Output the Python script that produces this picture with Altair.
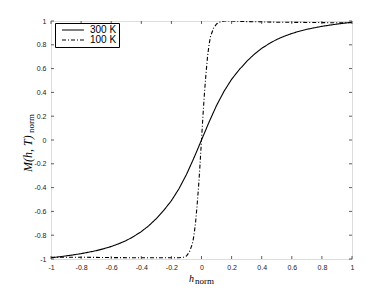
import altair as alt
import pandas as pd

# ---- data ----
h300 = [-1.0, -0.95, -0.9, -0.85, -0.8, -0.75, -0.7, -0.65, -0.6, -0.55, -0.5,
        -0.45, -0.4, -0.35, -0.3, -0.25, -0.2, -0.15, -0.1, -0.05, 0.0,
        0.05, 0.1, 0.15, 0.2, 0.25, 0.3, 0.35, 0.4, 0.45, 0.5,
        0.55, 0.6, 0.65, 0.7, 0.75, 0.8, 0.85, 0.9, 0.95, 1.0]
m300 = [-0.99, -0.982, -0.974, -0.965, -0.955, -0.943, -0.93, -0.914, -0.895, -0.872, -0.845,
        -0.81, -0.77, -0.72, -0.66, -0.59, -0.51, -0.41, -0.29, -0.15, 0.0,
        0.15, 0.29, 0.41, 0.51, 0.59, 0.66, 0.72, 0.77, 0.81, 0.845,
        0.872, 0.895, 0.914, 0.93, 0.943, 0.955, 0.965, 0.974, 0.982, 0.99]

h100 = [-1.0, -0.8, -0.6, -0.4, -0.3, -0.2, -0.15, -0.12, -0.1, -0.08, -0.06, -0.05,
        -0.04, -0.03, -0.02, -0.01, 0.0, 0.01, 0.02, 0.03, 0.04, 0.05, 0.06, 0.08,
        0.1, 0.12, 0.15, 0.2, 0.3, 0.5, 0.7, 0.9, 1.0]
m100 = [-0.985, -0.985, -0.988, -0.99, -0.99, -0.99, -0.99, -0.985, -0.975, -0.94, -0.87, -0.80,
        -0.70, -0.56, -0.40, -0.21, 0.0, 0.21, 0.40, 0.56, 0.70, 0.80, 0.87, 0.94,
        0.975, 0.99, 1.0, 1.0, 0.995, 0.99, 0.988, 0.985, 0.985]

series = ["300 K", "100 K"]
tick_vals = [-1, -0.8, -0.6, -0.4, -0.2, 0, 0.2, 0.4, 0.6, 0.8, 1]

df = pd.concat([
    pd.DataFrame({"h": h300, "M": m300, "T": series[0]}),
    pd.DataFrame({"h": h100, "M": m100, "T": series[1]}),
])

xs = alt.Scale(domain=[-1, 1], nice=False, zero=False)
ys = alt.Scale(domain=[-1, 1], nice=False, zero=False)

lab = "replace(format(datum.value, '.1~f'), '\u2212', '-')"

ax_common = dict(values=tick_vals, title=None, ticks=False, domain=False, grid=False,
                 labelExpr=lab, labelFont="Liberation Sans", labelFontSize=7,
                 labelColor="#222", labelFlush=False, labelOverlap=False, labelBound=False)

lines = alt.Chart(df).mark_line(color="black", strokeWidth=1.1, clip=True).encode(
    x=alt.X("h:Q", scale=xs, axis=alt.Axis(labelPadding=4, **ax_common)),
    y=alt.Y("M:Q", scale=ys, axis=alt.Axis(labelPadding=5, **ax_common)),
    strokeDash=alt.StrokeDash(
        "T:N",
        scale=alt.Scale(domain=series, range=[[1, 0], [4, 2, 1, 2]]),
        legend=alt.Legend(title=None, orient="none", legendX=4, legendY=2,
                          symbolType="M0,0H8", symbolSize=30,
                          symbolStrokeColor="black", symbolStrokeWidth=1.1,
                          labelFont="Liberation Sans", labelFontSize=10, labelColor="black",
                          labelOffset=23, strokeColor="black", fillColor="white",
                          padding=2, rowPadding=0),
    ),
    order=alt.Order("h:Q"),
)

# inward ticks on all four sides (MATLAB box style)
tl_x = 0.02
tl_y = 0.025
tick_rows = []
for t in tick_vals:
    tick_rows.append({"x": t, "x2": t, "y": -1, "y2": -1 + tl_y})
    tick_rows.append({"x": t, "x2": t, "y": 1, "y2": 1 - tl_y})
    tick_rows.append({"x": -1, "x2": -1 + tl_x, "y": t, "y2": t})
    tick_rows.append({"x": 1, "x2": 1 - tl_x, "y": t, "y2": t})
ticks = alt.Chart(pd.DataFrame(tick_rows)).mark_rule(color="#333", strokeWidth=0.8).encode(
    x=alt.X("x:Q", scale=xs, axis=alt.Axis(labelPadding=4, **ax_common)), x2="x2:Q",
    y=alt.Y("y:Q", scale=ys, axis=alt.Axis(labelPadding=5, **ax_common)), y2="y2:Q")

# axis titles
xt_h = alt.Chart(pd.DataFrame({"t": ["h"]})).mark_text(
    font="Liberation Serif", fontStyle="italic", fontSize=10, align="right",
    baseline="alphabetic", color="black").encode(text="t:N", x=alt.value(143), y=alt.value(261))
xt_n = alt.Chart(pd.DataFrame({"t": ["norm"]})).mark_text(
    font="Liberation Serif", fontSize=9, align="left",
    baseline="alphabetic", color="black").encode(text="t:N", x=alt.value(144), y=alt.value(263))
yt_m = alt.Chart(pd.DataFrame({"t": ["M(h, T)"]})).mark_text(
    font="Liberation Serif", fontStyle="italic", fontSize=12, align="left", angle=270,
    baseline="alphabetic", color="black").encode(text="t:N", x=alt.value(-19), y=alt.value(151))
yt_n = alt.Chart(pd.DataFrame({"t": ["norm"]})).mark_text(
    font="Liberation Serif", fontSize=9, align="left", angle=270,
    baseline="alphabetic", color="black").encode(text="t:N", x=alt.value(-17), y=alt.value(112))

chart = alt.layer(lines, ticks, xt_h, xt_n, yt_m, yt_n).properties(
    width=301, height=238,
    autosize=alt.AutoSizeParams(type="none"),
    padding={"left": 43, "top": 13, "right": 29, "bottom": 33},
).configure_view(stroke="#333", strokeWidth=1).configure_axis(
    labelOverlap=False
).configure(background="white")

chart.save("out.html", embed_options={"renderer": "svg", "actions": False})
